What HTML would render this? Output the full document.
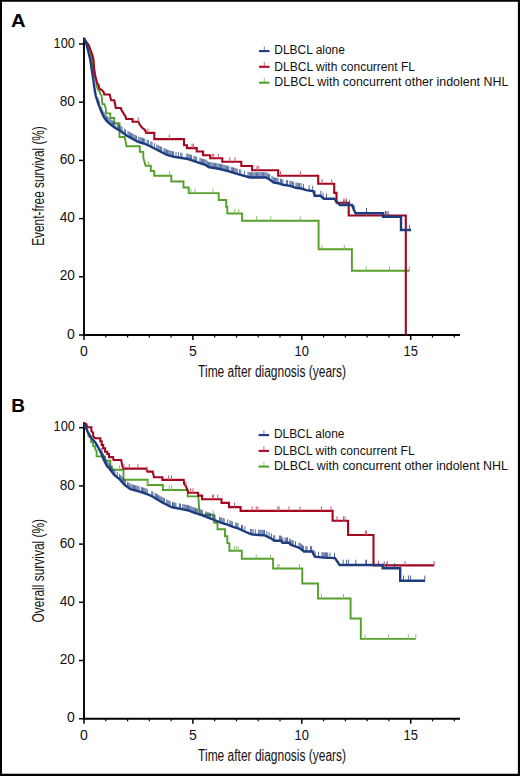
<!DOCTYPE html>
<html><head><meta charset="utf-8"><style>
html,body{margin:0;padding:0;background:#fff;}
svg{display:block;}
text{font-family:"Liberation Sans",sans-serif;fill:#111;}
.tk{font-size:14px;}
.lg{font-size:12px;}
.ti{font-size:16px;}
.pl{font-size:19px;font-weight:bold;fill:#000;}
</style></head><body>
<svg width="520" height="776" viewBox="0 0 520 776">
<rect x="0" y="0" width="520" height="776" fill="#fff"/>
<path d="M0 0H520V776H0Z M2 1.85V773.8H517.9V1.85Z" fill="#000" fill-rule="evenodd"/>
<text x="11.0" y="26.9" class="pl" textLength="14.6" lengthAdjust="spacingAndGlyphs">A</text>
<text x="11.2" y="411.5" class="pl">B</text>
<line x1="84.0" y1="37.5" x2="84.0" y2="336.0" stroke="#000" stroke-width="1.9"/>
<line x1="83.0" y1="335.0" x2="460" y2="335.0" stroke="#000" stroke-width="1.9"/>
<line x1="79" y1="335.0" x2="84.0" y2="335.0" stroke="#000" stroke-width="1.5"/>
<text x="74.9" y="338.6" text-anchor="end" class="tk">0</text>
<line x1="79" y1="276.8" x2="84.0" y2="276.8" stroke="#000" stroke-width="1.5"/>
<text x="74.9" y="280.4" text-anchor="end" class="tk" textLength="15.2" lengthAdjust="spacingAndGlyphs">20</text>
<line x1="79" y1="218.6" x2="84.0" y2="218.6" stroke="#000" stroke-width="1.5"/>
<text x="74.9" y="222.2" text-anchor="end" class="tk" textLength="15.2" lengthAdjust="spacingAndGlyphs">40</text>
<line x1="79" y1="160.4" x2="84.0" y2="160.4" stroke="#000" stroke-width="1.5"/>
<text x="74.9" y="164.0" text-anchor="end" class="tk" textLength="15.2" lengthAdjust="spacingAndGlyphs">60</text>
<line x1="79" y1="102.2" x2="84.0" y2="102.2" stroke="#000" stroke-width="1.5"/>
<text x="74.9" y="105.8" text-anchor="end" class="tk" textLength="15.2" lengthAdjust="spacingAndGlyphs">80</text>
<line x1="79" y1="44.0" x2="84.0" y2="44.0" stroke="#000" stroke-width="1.5"/>
<text x="74.9" y="47.6" text-anchor="end" class="tk" textLength="21.3" lengthAdjust="spacingAndGlyphs">100</text>
<line x1="84.0" y1="335.0" x2="84.0" y2="340.0" stroke="#000" stroke-width="1.5"/>
<text x="84.0" y="355.8" text-anchor="middle" class="tk">0</text>
<line x1="105.8" y1="335.0" x2="105.8" y2="337.6" stroke="#000" stroke-width="1.2"/>
<line x1="127.6" y1="335.0" x2="127.6" y2="337.6" stroke="#000" stroke-width="1.2"/>
<line x1="149.3" y1="335.0" x2="149.3" y2="337.6" stroke="#000" stroke-width="1.2"/>
<line x1="171.1" y1="335.0" x2="171.1" y2="337.6" stroke="#000" stroke-width="1.2"/>
<line x1="192.9" y1="335.0" x2="192.9" y2="340.0" stroke="#000" stroke-width="1.5"/>
<text x="192.9" y="355.8" text-anchor="middle" class="tk">5</text>
<line x1="214.7" y1="335.0" x2="214.7" y2="337.6" stroke="#000" stroke-width="1.2"/>
<line x1="236.5" y1="335.0" x2="236.5" y2="337.6" stroke="#000" stroke-width="1.2"/>
<line x1="258.2" y1="335.0" x2="258.2" y2="337.6" stroke="#000" stroke-width="1.2"/>
<line x1="280.0" y1="335.0" x2="280.0" y2="337.6" stroke="#000" stroke-width="1.2"/>
<line x1="301.8" y1="335.0" x2="301.8" y2="340.0" stroke="#000" stroke-width="1.5"/>
<text x="301.8" y="355.8" text-anchor="middle" class="tk" textLength="14.4" lengthAdjust="spacingAndGlyphs">10</text>
<line x1="323.6" y1="335.0" x2="323.6" y2="337.6" stroke="#000" stroke-width="1.2"/>
<line x1="345.4" y1="335.0" x2="345.4" y2="337.6" stroke="#000" stroke-width="1.2"/>
<line x1="367.1" y1="335.0" x2="367.1" y2="337.6" stroke="#000" stroke-width="1.2"/>
<line x1="388.9" y1="335.0" x2="388.9" y2="337.6" stroke="#000" stroke-width="1.2"/>
<line x1="410.7" y1="335.0" x2="410.7" y2="340.0" stroke="#000" stroke-width="1.5"/>
<text x="410.7" y="355.8" text-anchor="middle" class="tk" textLength="14.4" lengthAdjust="spacingAndGlyphs">15</text>
<line x1="432.5" y1="335.0" x2="432.5" y2="337.6" stroke="#000" stroke-width="1.2"/>
<line x1="454.3" y1="335.0" x2="454.3" y2="337.6" stroke="#000" stroke-width="1.2"/>
<line x1="84.0" y1="422.2" x2="84.0" y2="719.7" stroke="#000" stroke-width="1.9"/>
<line x1="83.0" y1="718.7" x2="460" y2="718.7" stroke="#000" stroke-width="1.9"/>
<line x1="79" y1="718.7" x2="84.0" y2="718.7" stroke="#000" stroke-width="1.5"/>
<text x="74.9" y="722.3" text-anchor="end" class="tk">0</text>
<line x1="79" y1="660.5" x2="84.0" y2="660.5" stroke="#000" stroke-width="1.5"/>
<text x="74.9" y="664.1" text-anchor="end" class="tk" textLength="15.2" lengthAdjust="spacingAndGlyphs">20</text>
<line x1="79" y1="602.3" x2="84.0" y2="602.3" stroke="#000" stroke-width="1.5"/>
<text x="74.9" y="605.9" text-anchor="end" class="tk" textLength="15.2" lengthAdjust="spacingAndGlyphs">40</text>
<line x1="79" y1="544.1" x2="84.0" y2="544.1" stroke="#000" stroke-width="1.5"/>
<text x="74.9" y="547.7" text-anchor="end" class="tk" textLength="15.2" lengthAdjust="spacingAndGlyphs">60</text>
<line x1="79" y1="485.9" x2="84.0" y2="485.9" stroke="#000" stroke-width="1.5"/>
<text x="74.9" y="489.5" text-anchor="end" class="tk" textLength="15.2" lengthAdjust="spacingAndGlyphs">80</text>
<line x1="79" y1="427.7" x2="84.0" y2="427.7" stroke="#000" stroke-width="1.5"/>
<text x="74.9" y="431.3" text-anchor="end" class="tk" textLength="21.3" lengthAdjust="spacingAndGlyphs">100</text>
<line x1="84.0" y1="718.7" x2="84.0" y2="723.7" stroke="#000" stroke-width="1.5"/>
<text x="84.0" y="739.5" text-anchor="middle" class="tk">0</text>
<line x1="105.8" y1="718.7" x2="105.8" y2="721.3000000000001" stroke="#000" stroke-width="1.2"/>
<line x1="127.6" y1="718.7" x2="127.6" y2="721.3000000000001" stroke="#000" stroke-width="1.2"/>
<line x1="149.3" y1="718.7" x2="149.3" y2="721.3000000000001" stroke="#000" stroke-width="1.2"/>
<line x1="171.1" y1="718.7" x2="171.1" y2="721.3000000000001" stroke="#000" stroke-width="1.2"/>
<line x1="192.9" y1="718.7" x2="192.9" y2="723.7" stroke="#000" stroke-width="1.5"/>
<text x="192.9" y="739.5" text-anchor="middle" class="tk">5</text>
<line x1="214.7" y1="718.7" x2="214.7" y2="721.3000000000001" stroke="#000" stroke-width="1.2"/>
<line x1="236.5" y1="718.7" x2="236.5" y2="721.3000000000001" stroke="#000" stroke-width="1.2"/>
<line x1="258.2" y1="718.7" x2="258.2" y2="721.3000000000001" stroke="#000" stroke-width="1.2"/>
<line x1="280.0" y1="718.7" x2="280.0" y2="721.3000000000001" stroke="#000" stroke-width="1.2"/>
<line x1="301.8" y1="718.7" x2="301.8" y2="723.7" stroke="#000" stroke-width="1.5"/>
<text x="301.8" y="739.5" text-anchor="middle" class="tk" textLength="14.4" lengthAdjust="spacingAndGlyphs">10</text>
<line x1="323.6" y1="718.7" x2="323.6" y2="721.3000000000001" stroke="#000" stroke-width="1.2"/>
<line x1="345.4" y1="718.7" x2="345.4" y2="721.3000000000001" stroke="#000" stroke-width="1.2"/>
<line x1="367.1" y1="718.7" x2="367.1" y2="721.3000000000001" stroke="#000" stroke-width="1.2"/>
<line x1="388.9" y1="718.7" x2="388.9" y2="721.3000000000001" stroke="#000" stroke-width="1.2"/>
<line x1="410.7" y1="718.7" x2="410.7" y2="723.7" stroke="#000" stroke-width="1.5"/>
<text x="410.7" y="739.5" text-anchor="middle" class="tk" textLength="14.4" lengthAdjust="spacingAndGlyphs">15</text>
<line x1="432.5" y1="718.7" x2="432.5" y2="721.3000000000001" stroke="#000" stroke-width="1.2"/>
<line x1="454.3" y1="718.7" x2="454.3" y2="721.3000000000001" stroke="#000" stroke-width="1.2"/>
<text x="198.1" y="376.9" class="ti" textLength="148" lengthAdjust="spacingAndGlyphs">Time after diagnosis (years)</text>
<text x="198.1" y="760.8" class="ti" textLength="148" lengthAdjust="spacingAndGlyphs">Time after diagnosis (years)</text>
<text transform="translate(43.7,245.8) rotate(-90)" class="ti" style="font-size:15.6px" textLength="119.6" lengthAdjust="spacingAndGlyphs">Event-free survival (%)</text>
<text transform="translate(43.9,622.5) rotate(-90)" class="ti" style="font-size:15.6px" textLength="103.6" lengthAdjust="spacingAndGlyphs">Overall survival (%)</text>
<line x1="259" y1="51.1" x2="269.5" y2="51.1" stroke="#1c3c7e" stroke-width="2.1"/>
<line x1="264.3" y1="46.3" x2="264.3" y2="51.1" stroke="#1c3c7e" stroke-width="1" opacity="0.6"/>
<text x="274.3" y="54.0" class="lg" textLength="70.6" lengthAdjust="spacingAndGlyphs">DLBCL alone</text>
<line x1="259" y1="66.8" x2="269.5" y2="66.8" stroke="#aa0c28" stroke-width="2.1"/>
<line x1="264.3" y1="62.0" x2="264.3" y2="66.8" stroke="#aa0c28" stroke-width="1" opacity="0.6"/>
<text x="274.3" y="70.7" class="lg" textLength="140.7" lengthAdjust="spacingAndGlyphs">DLBCL with concurrent FL</text>
<line x1="259" y1="82.7" x2="269.5" y2="82.7" stroke="#55a02a" stroke-width="2.1"/>
<line x1="264.3" y1="77.9" x2="264.3" y2="82.7" stroke="#55a02a" stroke-width="1" opacity="0.6"/>
<text x="274.3" y="86.3" class="lg" textLength="234" lengthAdjust="spacingAndGlyphs">DLBCL with concurrent other indolent NHL</text>
<line x1="258.6" y1="435.1" x2="269.1" y2="435.1" stroke="#1c3c7e" stroke-width="2.1"/>
<line x1="263.90000000000003" y1="430.3" x2="263.90000000000003" y2="435.1" stroke="#1c3c7e" stroke-width="1" opacity="0.6"/>
<text x="273.90000000000003" y="438.0" class="lg" textLength="70.6" lengthAdjust="spacingAndGlyphs">DLBCL alone</text>
<line x1="258.6" y1="450.9" x2="269.1" y2="450.9" stroke="#aa0c28" stroke-width="2.1"/>
<line x1="263.90000000000003" y1="446.1" x2="263.90000000000003" y2="450.9" stroke="#aa0c28" stroke-width="1" opacity="0.6"/>
<text x="273.90000000000003" y="454.7" class="lg" textLength="140.7" lengthAdjust="spacingAndGlyphs">DLBCL with concurrent FL</text>
<line x1="258.6" y1="466.6" x2="269.1" y2="466.6" stroke="#55a02a" stroke-width="2.1"/>
<line x1="263.90000000000003" y1="461.8" x2="263.90000000000003" y2="466.6" stroke="#55a02a" stroke-width="1" opacity="0.6"/>
<text x="273.90000000000003" y="470.3" class="lg" textLength="234" lengthAdjust="spacingAndGlyphs">DLBCL with concurrent other indolent NHL</text>
<polyline points="84.5,39.5 86.5,42.3 88.2,43.8 89.6,47.8 91.0,55.0 91.8,60.0 93.3,70.0 94.6,77.0 96.6,81.0 96.6,85.7 97.8,89.5 99.7,91.5 100.5,94.2 101.6,95.7 102.4,104.2 104.3,104.2 105.5,107.2 106.2,113.4 110.3,113.4 110.3,118.0 114.2,118.0 114.2,123.2 119.5,123.2 119.5,137.0 124.6,137.0 125.5,141.0 126.5,146.2 139.8,146.2 139.8,151.9 143.3,151.9 143.3,157.7 145.6,165.8 150.8,165.8 150.8,171.0 154.2,171.0 154.2,175.8 171.3,175.8 171.3,181.5 183.5,181.5 183.5,187.5 188.7,187.5 188.7,193.1 218.7,193.1 218.7,200.0 226.2,200.0 226.2,206.7 227.3,206.7 227.3,213.5 242.1,213.5 242.1,220.7 318.6,220.7 318.6,249.2 351.9,249.2 351.9,270.7 409.6,270.7" fill="none" stroke="#55a02a" stroke-width="1.9" stroke-linejoin="miter" stroke-linecap="butt"/>
<path d="M148.5 161.3V165.8M169.4 171.3V175.8M191.0 188.6V193.1M195.0 188.6V193.1M212.9 188.6V193.1M234.8 209.0V213.5M238.7 209.0V213.5M256.5 216.2V220.7M270.8 216.2V220.7M300.2 216.2V220.7M321.9 244.7V249.2M344.3 244.7V249.2M366.2 266.2V270.7M389.5 266.2V270.7M409.3 266.2V270.7" stroke="#8cc070" stroke-width="1" fill="none" opacity="1.0"/>
<polyline points="84.5,39.5 86.0,42.0 88.8,45.5 90.5,50.0 92.4,55.0 93.5,60.0 94.3,70.0 95.1,75.0 96.3,80.0 96.8,82.6 98.5,84.9 99.3,88.6 101.2,89.5 103.5,91.8 104.3,94.5 109.7,94.5 110.5,98.0 111.2,100.3 114.3,100.3 115.1,104.2 115.8,108.0 120.8,108.0 121.6,110.3 123.5,113.4 125.5,116.5 126.2,119.0 132.5,119.0 132.5,121.7 138.5,121.7 139.8,124.8 142.1,127.7 145.0,130.0 146.2,132.9 154.3,132.9 154.3,139.1 184.0,139.1 184.0,145.2 186.9,145.2 186.9,148.1 196.7,148.1 196.7,151.5 203.1,151.5 203.1,155.2 210.2,155.2 210.2,158.2 222.3,158.2 222.3,161.7 241.3,161.7 241.3,166.0 252.1,166.0 252.1,170.2 278.2,170.2 278.2,175.8 318.2,175.8 318.2,183.7 334.2,183.7 334.2,192.9 336.5,192.9 336.5,202.7 348.7,202.7 348.7,215.5 405.8,215.5 405.8,334.8" fill="none" stroke="#a3061f" stroke-width="2.1" stroke-linejoin="miter" stroke-linecap="butt"/>
<path d="M138.2 117.2V121.7M147.8 128.4V132.9M169.3 134.6V139.1M192.1 143.6V148.1M193.6 143.6V148.1M212.2 153.7V158.2M213.7 153.7V158.2M218.3 153.7V158.2M229.8 157.2V161.7M235.0 157.2V161.7M256.9 165.7V170.2M258.7 165.7V170.2M280.5 171.3V175.8M300.4 171.3V175.8M322.1 179.2V183.7M331.7 179.2V183.7M344.0 198.2V202.7M346.3 198.2V202.7M366.5 211.0V215.5M385.4 211.0V215.5M387.0 211.0V215.5" stroke="#c85a70" stroke-width="1" fill="none" opacity="1.0"/>
<path d="M98.0 97.5V102.8M99.2 100.8V106.1M101.6 106.8V112.1M102.8 109.6V114.9M104.0 111.9V117.2M105.2 113.7V119.0M106.4 115.3V120.6M107.6 116.4V121.7M108.8 117.6V122.9M110.0 118.7V124.0M111.2 119.6V124.9M112.4 120.5V125.8M113.6 121.4V126.7M114.8 122.3V127.6M117.2 123.7V129.0M118.4 124.5V129.8M119.6 125.2V130.5M120.8 125.9V131.2M122.0 126.8V132.1M124.4 128.6V133.9M125.6 129.5V134.8M128.0 131.0V136.3M129.2 131.7V137.0M130.4 132.4V137.7M131.6 133.0V138.3M132.8 133.7V139.0M134.0 134.3V139.6M135.2 135.0V140.3M136.4 135.6V140.9M138.8 136.7V142.0M140.0 137.1V142.4M141.2 137.4V142.7M142.4 137.8V143.1M143.6 138.1V143.4M144.8 138.6V143.9M147.2 139.7V145.0M148.4 140.2V145.5M150.8 141.3V146.6M152.0 141.9V147.2M154.4 143.2V148.5M156.8 144.4V149.7M158.0 145.0V150.3M159.2 145.7V151.0M160.4 146.3V151.6M161.6 146.9V152.2M164.0 148.1V153.4M165.2 148.6V153.9M166.4 149.2V154.5M167.6 149.7V155.0M168.8 150.1V155.4M170.0 150.4V155.7M171.2 150.8V156.1M172.4 151.2V156.5M173.6 151.5V156.8M176.0 151.9V157.2M178.4 152.2V157.5M180.8 152.6V157.9M182.0 152.8V158.1M186.8 153.5V158.8M188.0 153.7V159.0M189.2 154.1V159.4M190.4 154.5V159.8M191.6 155.0V160.3M194.0 155.8V161.1M195.2 156.2V161.5M196.4 156.7V162.0M200.0 157.9V163.2M201.2 158.3V163.6M202.4 158.7V164.0M203.6 159.0V164.3M204.8 159.4V164.7M206.0 159.7V165.0M207.2 160.7V166.0M208.4 161.7V167.0M209.6 162.0V167.3M210.8 162.2V167.5M212.0 162.4V167.7M213.2 162.6V167.9M214.4 162.8V168.1M215.6 163.0V168.3M216.8 163.2V168.5M218.0 163.4V168.7M219.2 163.6V168.9M220.4 163.9V169.2M221.6 164.2V169.5M222.8 164.5V169.8M224.0 164.8V170.1M225.2 165.2V170.5M226.4 165.5V170.8M227.6 165.8V171.1M228.8 166.1V171.4M231.2 166.8V172.1M232.4 167.2V172.5M233.6 167.5V172.8M234.8 167.9V173.2M236.0 168.2V173.5M237.2 168.6V173.9M239.6 169.3V174.6M240.8 169.6V174.9M244.4 170.6V175.9M248.0 171.6V176.9M249.2 172.0V177.3M250.4 172.2V177.5M251.6 172.2V177.5M252.8 172.2V177.5M254.0 172.2V177.5M255.2 172.2V177.5M256.4 172.2V177.5M257.6 172.2V177.5M258.8 172.2V177.5M260.0 172.2V177.5M261.2 172.2V177.5M262.4 172.2V177.5M263.6 172.2V177.5M264.8 172.2V177.5M266.0 172.3V177.6M267.2 172.9V178.2M268.4 173.5V178.8M269.6 174.2V179.5M272.0 176.0V181.3M273.2 176.9V182.2M274.4 177.5V182.8M275.6 177.6V182.9M276.8 177.8V183.1M278.0 177.9V183.2M280.4 178.6V183.9M281.6 179.0V184.3M282.8 179.4V184.7M286.4 180.0V185.3M287.6 180.2V185.5M290.0 180.6V185.9M291.2 181.0V186.3M292.4 181.4V186.7M293.6 181.8V187.1M296.0 182.6V187.9M297.2 182.7V188.0M298.4 182.9V188.2M299.6 183.0V188.3M301.2 183.2V188.5M303.5 183.9V189.2M309.2 185.3V190.6M312.7 185.8V191.1M315.0 190.5V195.8M320.8 190.8V196.1M323.0 192.7V198.0M326.5 193.4V198.7M343.8 199.7V205.0M346.2 199.7V205.0M349.6 199.7V205.0M354.2 205.1V210.4M366.5 207.9V213.2M385.8 211.4V216.7M388.2 211.4V216.7M409.6 224.7V230.0" stroke="#1f3f80" stroke-width="0.85" fill="none" opacity="0.92"/>
<polyline points="84.3,38.3 85.9,41.8 87.8,49.5 89.7,57.3 90.3,60.0 91.8,70.0 93.4,80.0 94.4,88.0 95.7,95.5 98.2,103.4 100.5,109.5 103.5,116.5 106.2,120.4 110.0,124.0 115.0,127.7 120.8,131.2 126.5,135.5 132.3,138.7 138.1,141.8 143.8,143.5 149.6,146.0 155.4,149.0 161.2,152.0 167.0,154.8 173.1,156.7 180.0,157.8 188.1,159.0 196.2,161.9 203.1,164.2 206.0,165.0 208.5,167.1 218.8,168.8 228.1,171.2 239.6,174.6 250.0,177.5 265.8,177.5 269.2,179.2 273.8,182.7 278.5,183.3 283.1,184.8 290.0,185.9 295.8,187.9 301.5,188.5 306.2,190.2 310.8,190.8 313.5,191.2 314.6,195.8 320.4,195.8 323.8,198.7 334.2,198.7 336.5,201.5 340.0,205.0 352.1,205.0 353.8,209.6 355.6,213.2 383.1,213.2 383.1,216.7 401.0,216.7 401.0,230.0 411.0,230.0" fill="none" stroke="#1c3c7e" stroke-width="2.4" stroke-linejoin="miter" stroke-linecap="butt"/>
<polyline points="84.4,424.0 86.5,429.0 88.2,434.0 88.6,436.3 91.1,438.3 91.1,442.0 93.1,442.6 93.1,446.0 95.0,446.4 95.3,449.6 96.6,450.6 96.6,456.4 105.0,456.4 105.0,460.8 110.4,460.8 110.4,469.7 123.5,469.7 123.5,479.7 147.6,479.7 147.6,485.0 162.9,485.0 162.9,490.0 187.7,490.0 187.7,496.4 198.3,496.4 199.6,514.7 214.0,514.7 214.0,522.5 217.5,523.3 217.5,529.2 225.0,529.2 225.0,536.2 227.3,536.2 227.3,543.1 229.4,543.1 229.4,550.7 241.8,550.7 241.8,558.8 273.1,558.8 273.1,568.5 302.3,568.5 302.3,583.5 318.0,583.5 318.0,598.5 350.6,598.5 350.6,618.5 360.8,618.5 360.8,638.9 415.8,638.9" fill="none" stroke="#55a02a" stroke-width="1.9" stroke-linejoin="miter" stroke-linecap="butt"/>
<path d="M112.5 465.2V469.7M119.4 465.2V469.7M147.7 480.5V485.0M169.2 485.5V490.0M171.5 485.5V490.0M213.1 510.2V514.7M234.6 546.2V550.7M236.2 546.2V550.7M238.2 546.2V550.7M256.2 554.3V558.8M270.5 554.3V558.8M277.7 564.0V568.5M279.2 564.0V568.5M299.5 564.0V568.5M321.5 594.0V598.5M343.5 594.0V598.5M365.1 634.4V638.9M388.4 634.4V638.9M408.3 634.4V638.9M415.8 634.4V638.9" stroke="#8cc070" stroke-width="1" fill="none" opacity="1.0"/>
<polyline points="84.5,423.3 86.3,424.0 87.3,427.2 91.4,427.2 91.4,431.5 93.1,432.5 93.1,435.9 95.0,438.3 100.3,438.3 100.3,441.2 101.7,441.2 101.7,445.0 103.2,445.0 103.2,448.4 105.1,448.4 105.1,451.7 107.3,451.7 107.3,454.0 109.0,454.0 109.0,457.1 113.1,457.1 113.5,460.0 121.2,460.0 122.3,465.8 123.5,468.6 146.0,468.6 147.5,471.6 152.7,471.6 154.0,477.3 162.4,477.3 162.4,479.9 183.7,479.9 184.2,484.0 186.0,486.3 187.1,489.2 188.3,492.7 198.1,492.7 198.1,495.6 202.1,495.6 202.1,499.2 221.5,499.2 221.5,502.9 229.0,502.9 229.0,507.1 240.6,507.1 240.6,510.9 332.6,510.9 332.6,520.7 348.1,520.7 348.1,535.0 373.5,535.0 373.5,565.4 434.2,565.4" fill="none" stroke="#a3061f" stroke-width="2.1" stroke-linejoin="miter" stroke-linecap="butt"/>
<path d="M124.0 464.1V468.6M129.2 464.1V468.6M137.9 464.1V468.6M147.1 466.3V470.8M168.7 475.4V479.9M171.5 475.4V479.9M186.0 481.8V486.3M190.6 488.2V492.7M192.9 488.2V492.7M212.5 494.7V499.2M213.7 494.7V499.2M217.7 494.7V499.2M234.5 502.6V507.1M252.1 506.4V510.9M256.2 506.4V510.9M257.9 506.4V510.9M277.8 506.4V510.9M279.1 506.4V510.9M289.0 506.4V510.9M300.0 506.4V510.9M321.5 506.4V510.9M331.0 506.4V510.9M337.0 516.2V520.7M343.5 516.2V520.7M345.0 516.2V520.7M365.3 530.5V535.0M366.5 530.5V535.0M378.5 560.9V565.4M384.2 560.9V565.4M387.3 560.9V565.4M405.0 560.9V565.4M434.2 560.9V565.4" stroke="#c85a70" stroke-width="1" fill="none" opacity="1.0"/>
<path d="M101.2 448.1V453.4M102.3 450.9V456.2M103.5 453.6V458.9M104.6 456.1V461.4M105.8 458.3V463.6M106.9 460.5V465.8M108.1 461.8V467.1M109.2 463.0V468.3M110.4 464.4V469.7M111.5 466.0V471.3M112.7 467.6V472.9M113.8 469.2V474.5M115.0 470.3V475.6M117.3 472.1V477.4M119.6 473.9V479.2M120.7 475.1V480.4M121.9 476.4V481.7M123.0 477.7V483.0M124.2 479.0V484.3M125.3 480.0V485.3M127.6 481.8V487.1M128.8 482.6V487.9M129.9 483.5V488.8M131.1 484.1V489.4M132.2 484.4V489.7M133.4 484.7V490.0M134.5 485.0V490.3M135.7 485.3V490.6M136.8 485.6V490.9M138.0 486.0V491.3M139.1 486.3V491.6M141.4 487.0V492.3M142.6 487.3V492.6M143.7 487.7V493.0M144.9 488.0V493.3M146.0 488.4V493.7M147.2 488.9V494.2M151.8 490.8V496.1M152.9 491.5V496.8M155.2 492.9V498.2M156.4 493.6V498.9M157.5 494.3V499.6M158.7 495.0V500.3M159.8 495.7V501.0M161.0 496.3V501.6M162.1 497.0V502.3M163.3 497.7V503.0M164.4 498.2V503.5M166.7 499.4V504.7M167.9 500.0V505.3M169.0 500.6V505.9M170.2 501.2V506.5M172.5 502.1V507.4M173.6 502.3V507.6M174.8 502.5V507.8M175.9 502.7V508.0M179.4 503.4V508.7M180.5 503.6V508.9M182.8 504.0V509.3M184.0 504.3V509.6M185.1 504.5V509.8M186.3 504.8V510.1M187.4 505.0V510.3M188.6 505.2V510.5M189.7 505.7V511.0M190.9 506.1V511.4M192.0 506.6V511.9M193.2 507.0V512.3M194.3 507.5V512.8M195.5 507.8V513.1M196.6 508.2V513.5M197.8 508.5V513.8M200.1 509.2V514.5M201.2 509.6V514.9M202.4 510.1V515.4M205.8 511.4V516.7M207.0 511.9V517.2M208.1 512.3V517.6M209.3 512.7V518.0M210.4 513.1V518.4M212.7 514.0V519.3M215.0 515.0V520.3M219.6 516.8V522.1M220.8 517.3V522.6M221.9 517.7V523.0M223.1 518.1V523.4M224.2 518.4V523.7M227.7 519.4V524.7M230.0 520.4V525.7M231.1 520.8V526.1M232.3 521.3V526.6M235.7 522.4V527.7M236.9 522.8V528.1M238.0 523.1V528.4M241.5 524.7V530.0M242.6 525.2V530.5M244.9 526.3V531.6M250.7 528.7V534.0M251.8 529.1V534.4M253.0 529.2V534.5M255.3 529.4V534.7M258.7 529.7V535.0M259.9 529.7V535.0M261.0 529.8V535.1M262.2 529.8V535.1M263.3 529.9V535.2M264.5 530.0V535.3M266.8 531.1V536.4M269.1 532.2V537.5M271.4 533.4V538.7M273.7 535.0V540.3M274.8 535.5V540.8M279.4 535.5V540.8M280.6 535.5V540.8M281.7 536.3V541.6M282.9 537.5V542.8M285.2 537.5V542.8M286.3 537.5V542.8M287.5 537.5V542.8M289.8 538.3V543.6M290.9 539.6V544.9M292.1 540.0V545.3M293.2 540.3V545.6M295.5 541.2V546.5M299.0 542.5V547.8M300.1 543.0V548.3M301.3 543.9V549.2M302.4 544.9V550.2M303.6 545.8V551.1M305.9 546.2V551.5M307.0 546.2V551.5M310.5 546.2V551.5M311.6 546.2V551.5M313.9 549.7V555.0M315.1 551.4V556.7M318.5 551.8V557.1M322.0 552.1V557.4M323.1 552.3V557.6M324.3 552.3V557.6M325.4 552.4V557.7M326.6 552.4V557.7M327.7 552.5V557.8M330.0 552.6V557.9M334.5 552.8V558.1M343.2 559.7V565.0M346.5 559.7V565.0M348.4 559.7V565.0M355.8 559.7V565.0M365.8 559.7V565.0M366.5 559.7V565.0M386.5 563.0V568.3M394.5 563.0V568.3M403.5 575.5V580.8M408.4 575.5V580.8M410.4 575.5V580.8M424.8 575.5V580.8" stroke="#1f3f80" stroke-width="0.85" fill="none" opacity="0.92"/>
<polyline points="84.6,424.2 87.8,432.0 91.6,438.3 95.5,442.6 97.9,446.9 100.3,451.3 101.5,454.3 104.1,460.4 107.0,466.0 109.6,468.7 114.2,475.0 120.0,479.6 124.6,484.8 130.4,489.2 139.6,491.7 145.4,493.5 151.2,495.8 156.9,499.2 162.7,502.7 165.8,504.2 171.5,507.2 177.3,508.3 183.1,509.4 188.8,510.6 194.6,512.9 200.4,514.6 206.2,516.9 211.9,519.0 215.8,520.6 221.5,522.9 227.3,524.6 233.1,526.9 238.8,528.7 244.6,531.5 251.5,534.4 258.5,535.0 264.2,535.2 270.4,538.1 274.4,540.8 281.2,540.8 282.5,542.8 289.2,542.8 290.6,544.8 294.6,546.1 300.0,548.2 304.0,551.5 312.1,551.5 314.8,556.7 323.5,557.6 335.0,558.1 339.6,565.0 382.7,565.0 382.7,568.3 400.2,568.3 400.2,580.8 425.0,580.8" fill="none" stroke="#1c3c7e" stroke-width="2.4" stroke-linejoin="miter" stroke-linecap="butt"/>
</svg>
</body></html>
